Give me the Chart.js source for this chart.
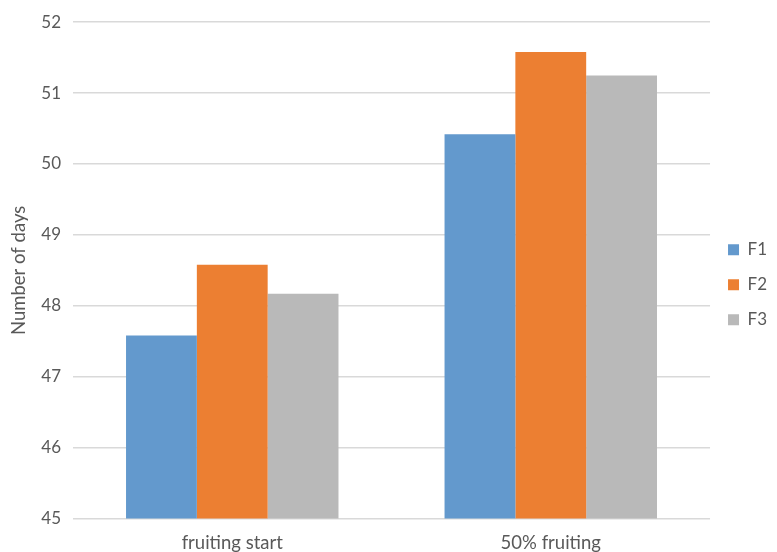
<!DOCTYPE html>
<html>
<head>
<meta charset="utf-8">
<script src="https://cdn.jsdelivr.net/npm/chart.js@4/dist/chart.umd.min.js"></script>
<style>
  html, body { margin: 0; padding: 0; background: #fff; }
  #wrap { width: 777px; height: 552px; position: relative; }
</style>
</head>
<body>
<div id="wrap"><canvas id="c"></canvas></div>
<script>
// Days to fruiting stages per treatment
const categories = ['fruiting start', '50% fruiting'];
const seriesNames = ['F1', 'F2', 'F3'];
const f1Values = [47.58, 50.42];
const f2Values = [48.58, 51.58];
const f3Values = [48.17, 51.25];
const yTicks = [45, 46, 47, 48, 49, 50, 51, 52];

const colors = ['#6399CD', '#EC7F32', '#B9B9B9'];
const allValues = [f1Values, f2Values, f3Values];
const FONT = 'Lato, "Open Sans", sans-serif';
const TEXT = '#595959';

new Chart(document.getElementById('c'), {
  type: 'bar',
  data: {
    labels: categories,
    datasets: seriesNames.map((name, i) => ({
      label: name,
      data: allValues[i],
      backgroundColor: colors[i],
      borderWidth: 0,
      categoryPercentage: 0.667,
      barPercentage: 1.0
    }))
  },
  options: {
    responsive: true,
    maintainAspectRatio: false,
    animation: false,
    layout: { padding: { top: 17.5, right: 0, bottom: 0, left: 0 } },
    plugins: {
      tooltip: { enabled: false },
      legend: {
        position: 'right',
        labels: {
          boxWidth: 11,
          boxHeight: 11,
          padding: 18,
          color: TEXT,
          font: { family: FONT, size: 17 }
        }
      }
    },
    scales: {
      x: {
        grid: { display: false, drawTicks: false },
        border: { display: false },
        afterFit: (scale) => { scale.height = 33.5; },
        ticks: { color: TEXT, font: { family: FONT, size: 18.5 }, padding: 13 }
      },
      y: {
        min: 45,
        max: 52,
        afterBuildTicks: (scale) => { scale.ticks = yTicks.map(v => ({ value: v })); },
        afterFit: (scale) => { scale.width = 73; },
        grid: { color: '#D9D9D9', lineWidth: 1.5, drawTicks: false },
        border: { display: false },
        ticks: { color: TEXT, font: { family: FONT, size: 17 }, padding: 12 },
        title: {
          display: true,
          text: 'Number of days',
          color: TEXT,
          font: { family: FONT, size: 18.5 },
          padding: { top: 8, bottom: 4 }
        }
      }
    }
  }
});
</script>
</body>
</html>
